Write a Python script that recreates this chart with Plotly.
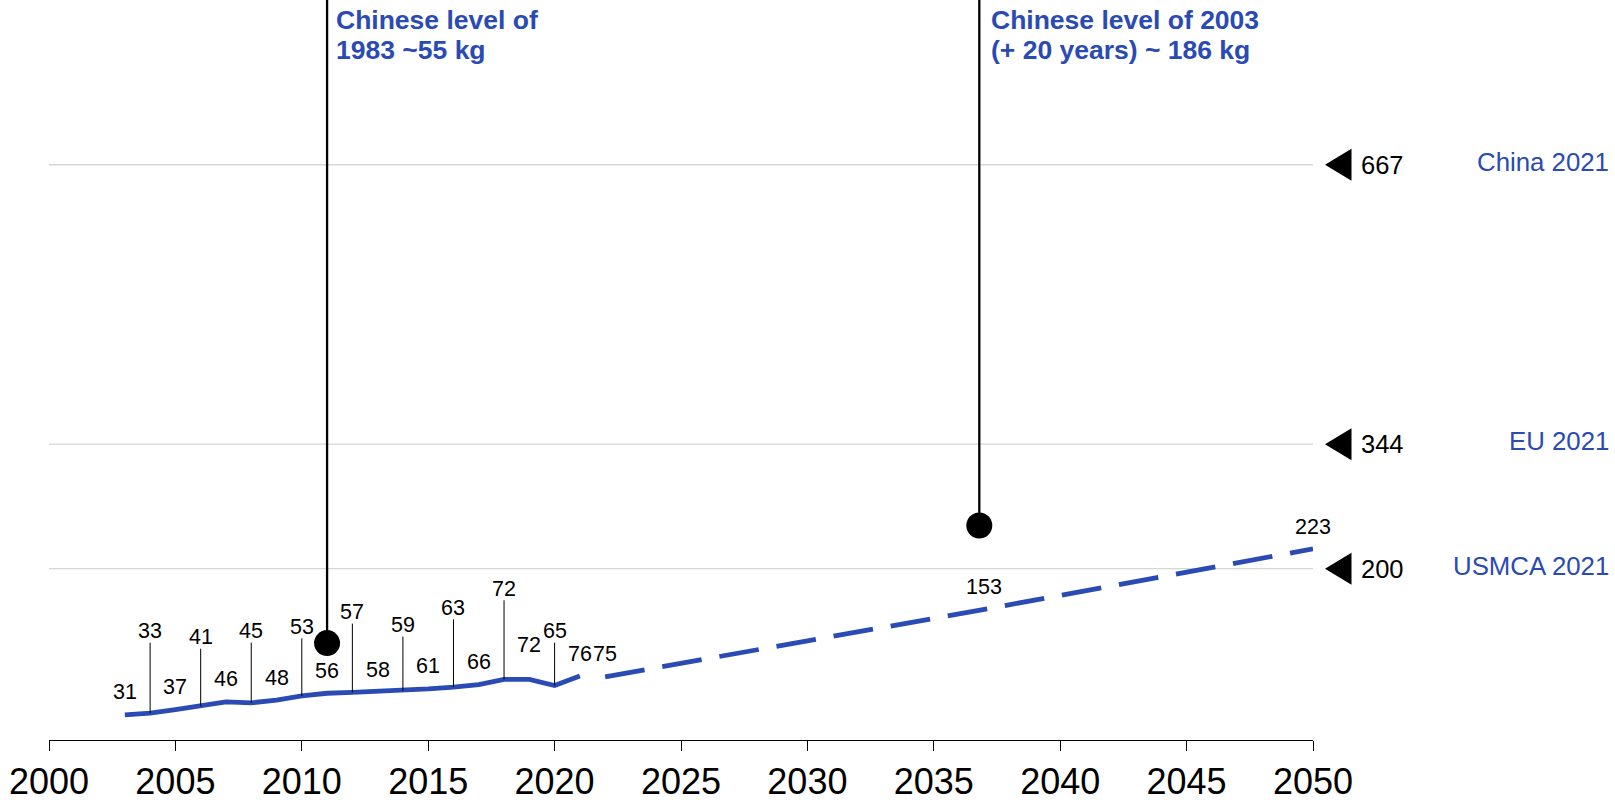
import plotly.graph_objects as go

# ---------------- data ----------------
actual_years = [2003, 2004, 2005, 2006, 2007, 2008, 2009, 2010, 2011, 2012,
                2013, 2014, 2015, 2016, 2017, 2018, 2019, 2020, 2021]
actual_values = [31, 33, 37, 41, 46, 45, 48, 53, 56, 57,
                 58, 59, 61, 63, 66, 72, 72, 65, 76]

forecast_years = [2022, 2037, 2050]
forecast_values = [75, 153, 223]

benchmark_names = ["China 2021", "EU 2021", "USMCA 2021"]
benchmark_values = [667, 344, 200]

chinese_level_years = [2011, 2036.8]
chinese_level_marks = [114, 250]
chinese_level_texts = [["Chinese level of", "1983 ~55 kg"],
                       ["Chinese level of 2003", "(+ 20 years) ~ 186 kg"]]

tick_years = [2000, 2005, 2010, 2015, 2020, 2025, 2030, 2035, 2040, 2045, 2050]

# ---------------- layout helpers ----------------
W, H = 1615, 803
ML, MR, MT, MB = 49, 302, 0, 63
PW, PH = W - ML - MR, H - MT - MB
XR = [2000, 2050]
PX_PER_UNIT = 0.865
ZERO_PX = 741.7                      # pixel row of value 0
YR = [(ZERO_PX - PH) / PX_PER_UNIT, ZERO_PX / PX_PER_UNIT]

BLUE = "#2A4AB4"
FONT = "Liberation Sans, Arial, sans-serif"

# label placement (chart units) for each value label
label_height = {2003: 57, 2004: 128, 2005: 63, 2006: 121, 2007: 72, 2008: 128,
                2009: 74, 2010: 133, 2011: 82, 2012: 150, 2013: 83, 2014: 135,
                2015: 87, 2016: 155, 2017: 92, 2018: 177, 2019: 112, 2020: 128,
                2021: 101, 2022: 101, 2037: 179, 2050: 248}
stem_years = [2004, 2006, 2008, 2010, 2012, 2014, 2016, 2018, 2020]


def paper_y(px_from_top):
    return (PH - px_from_top) / PH


fig = go.Figure()

# actual (solid)
fig.add_trace(go.Scatter(x=actual_years, y=actual_values, mode="lines",
                         line=dict(color=BLUE, width=4.8), hoverinfo="skip",
                         showlegend=False))
# forecast (dashed)
fig.add_trace(go.Scatter(x=forecast_years, y=forecast_values, mode="lines",
                         line=dict(color=BLUE, width=4.8, dash="40px,18px"),
                         hoverinfo="skip", showlegend=False))
# Chinese level dots
fig.add_trace(go.Scatter(x=chinese_level_years, y=chinese_level_marks, mode="markers",
                         marker=dict(color="black", size=26), hoverinfo="skip",
                         showlegend=False))

shapes = []
annotations = []

# gridlines at benchmarks + triangles pointing at them
for v in benchmark_values:
    shapes.append(dict(type="line", xref="x", yref="y", x0=XR[0], x1=XR[1], y0=v, y1=v,
                       line=dict(color="#d6d6d6", width=1.3), layer="below"))
    shapes.append(dict(type="path", xref="paper", yref="y",
                       xsizemode="pixel", xanchor=1, ysizemode="pixel", yanchor=v,
                       path="M 12,0 L 38.5,16 L 38.5,-16 Z",
                       fillcolor="black", line=dict(width=0)))

# vertical lines for Chinese levels
for xv, yv in zip(chinese_level_years, chinese_level_marks):
    shapes.append(dict(type="line", xref="x", yref="y", x0=xv, x1=xv, y0=yv, y1=YR[1],
                       line=dict(color="black", width=2.3)))

# value labels
all_years = actual_years + forecast_years
all_values = actual_values + forecast_values
for yr, val in zip(all_years, all_values):
    if yr not in label_height:
        continue
    ly = label_height[yr]
    annotations.append(dict(x=yr, y=ly, xref="x", yref="y", text=str(val),
                            showarrow=False, xanchor="center", yanchor="middle",
                            font=dict(family=FONT, size=21.5, color="black"), borderpad=0))
    if yr in stem_years:
        shapes.append(dict(type="line", xref="x", yref="y", x0=yr, x1=yr, y0=val,
                           y1=ly - 13.5, line=dict(color="black", width=1)))

# benchmark numbers and names
for name, v in zip(benchmark_names, benchmark_values):
    annotations.append(dict(x=XR[1], y=v, xref="x", yref="y", text=str(v), showarrow=False,
                            xanchor="left", yanchor="middle", xshift=47, borderpad=0,
                            font=dict(family=FONT, size=25.5, color="black")))
    annotations.append(dict(x=(W - 5 - ML) / PW, y=v, xref="paper", yref="y", text=name,
                            showarrow=False, xanchor="right", yanchor="middle", yshift=3,
                            borderpad=0, font=dict(family=FONT, size=25.8, color=BLUE)))

# Chinese level texts
for xv, lines, xs in zip(chinese_level_years, chinese_level_texts, [8, 11]):
    for i, t in enumerate(lines):
        annotations.append(dict(x=xv, y=paper_y(20.5 + 29 * i), xref="x", yref="paper",
                                text="<b>" + t + "</b>", showarrow=False, xanchor="left",
                                yanchor="middle", xshift=xs, borderpad=0,
                                font=dict(family=FONT, size=26.5, color=BLUE)))

fig.update_layout(
    width=W, height=H,
    margin=dict(l=ML, r=MR, t=MT, b=MB, pad=0, autoexpand=False),
    paper_bgcolor="white", plot_bgcolor="white",
    shapes=shapes, annotations=annotations,
    xaxis=dict(range=XR, tickmode="array", tickvals=tick_years,
               ticktext=[str(t) for t in tick_years], automargin=False,
               showline=True, linecolor="black", linewidth=1.3,
               ticks="outside", ticklen=10, tickwidth=1.3, tickcolor="black",
               showgrid=False, zeroline=False,
               tickfont=dict(family=FONT, size=36, color="black")),
    yaxis=dict(range=YR, visible=False, showgrid=False, zeroline=False),
)

fig.write_html("out.html")
